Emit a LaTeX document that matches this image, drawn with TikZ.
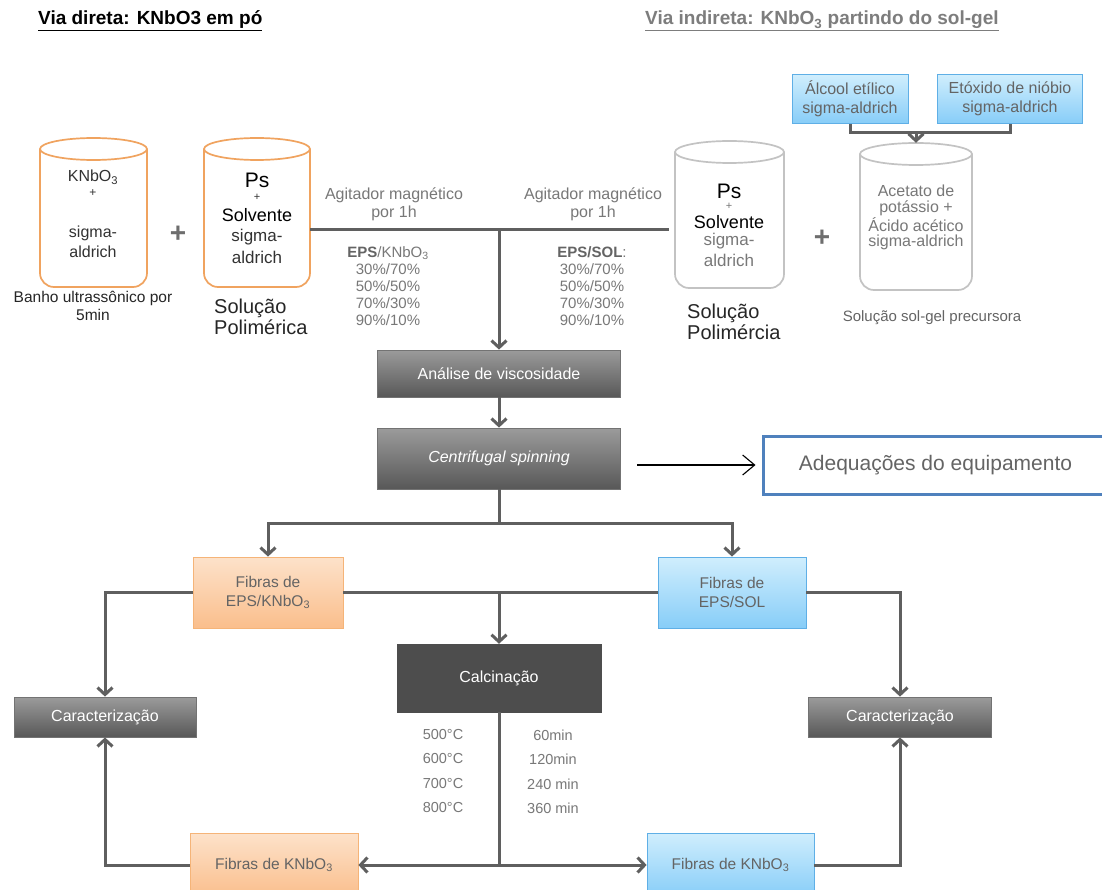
\documentclass[tikz,border=0pt]{standalone}
\usepackage{fontspec}
\setmainfont{Liberation Sans}
\usetikzlibrary{arrows.meta}
\definecolor{ocyl}{RGB}{240,163,95}
\definecolor{gcyl}{RGB}{195,195,195}
\definecolor{conncol}{RGB}{95,95,95}
\definecolor{otop}{RGB}{253,226,202}
\definecolor{obot}{RGB}{250,190,140}
\definecolor{oborder}{RGB}{245,180,120}
\definecolor{btop}{RGB}{208,238,253}
\definecolor{bbot}{RGB}{135,205,248}
\definecolor{bborder}{RGB}{95,175,230}
\definecolor{gtop}{RGB}{155,155,155}
\definecolor{gbot}{RGB}{88,88,88}
\definecolor{gborder}{RGB}{115,115,115}
\definecolor{calccol}{RGB}{77,77,77}
\definecolor{adqblue}{RGB}{79,129,189}
\definecolor{hdrgray}{RGB}{125,125,125}
\definecolor{tgray}{RGB}{100,100,100}
\definecolor{lgray}{RGB}{120,120,120}
\definecolor{dtext}{RGB}{50,50,50}
\definecolor{plusgray}{RGB}{110,110,110}
\newcommand\fz[2]{\fontsize{#1}{#2}\selectfont}
\newcommand\drawcyl[6]{%
  \node[inner sep=0pt, minimum width={(#4-#2)*1pt}, minimum height={(#5-#3)*1pt}] (#1) at ({(#2+#4)/2},{(#3+#5)/2}) {};
  \draw[#6, line width=1.7pt] ({(#2+#4)/2},{#3+11}) ellipse [x radius={(#4-#2)/2*1pt}, y radius=11pt];
  \draw[#6, line width=1.7pt, rounded corners=14pt] (#2,{#3+11}) -- (#2,#5) -- (#4,#5) -- (#4,{#3+11});
}
\tikzset{
  conn/.style={draw=conncol, line width=3pt},
  thinarr/.style={draw=black, line width=1.1pt, -{Straight Barb[length=12pt,width=20pt]}},
  gbox/.style={draw=gborder, line width=0.8pt, top color=gtop, bottom color=gbot, text=white, font=\fz{16}{19}, inner sep=0pt},
  cbox/.style={draw=calccol, fill=calccol, text=white, font=\fz{16}{19}, inner sep=0pt},
  obox/.style={draw=oborder, line width=0.8pt, top color=otop, bottom color=obot, text=tgray, font=\fz{15.5}{19}, align=center, inner sep=0pt},
  bbox/.style={draw=bborder, line width=0.8pt, top color=btop, bottom color=bbot, text=tgray, font=\fz{15.5}{19}, align=center, inner sep=0pt},
  adqbox/.style={draw=adqblue, line width=3pt, text=tgray, font=\fz{21}{24}, inner sep=0pt},
  tx/.style={font=\fz{14.5}{17}, text=lgray, inner sep=0pt},
  cyltx/.style={font=\fz{16}{19}, text=dtext, inner sep=0pt},
}
\begin{document}
\begin{tikzpicture}[x=1pt, y=-1pt, >={Straight Barb[length=7pt,width=15pt]}]
\useasboundingbox[fill=white] (0,0) rectangle (1102,890);

% headers
\node[font=\bfseries\fz{19}{22}, anchor=base west, inner sep=0pt] (h1) at (38,25) {\underline{Via direta: KNbO3 em pó}};
\node[font=\bfseries\fz{19}{22}, text=hdrgray, anchor=base west, inner sep=0pt] (h2) at (645,25) {\underline{Via indireta: KNbO\textsubscript{3} partindo do sol-gel}};

% reagent boxes
\node[bbox, minimum width=116pt, minimum height=49pt, font=\fz{16}{19}] (alc) at (850,99) {Álcool etílico\\sigma-aldrich};
\node[bbox, minimum width=145pt, minimum height=49pt, font=\fz{16}{19}] (eto) at (1010,99) {Etóxido de nióbio\\sigma-aldrich};

% cylinders
\drawcyl{c1}{40}{138}{147}{287}{ocyl}
\drawcyl{c2}{204}{138}{310}{287}{ocyl}
\drawcyl{c3}{675}{141}{784}{288}{gcyl}
\drawcyl{c4}{860}{143}{972}{290}{gcyl}

% cylinder texts
\node[cyltx] (c1a) at (93,177) {KNbO\textsubscript{3}};
\node[cyltx, font=\fz{12}{14}] (c1b) at (93,193) {+};
\node[cyltx] (c1c) at (93,233) {sigma-};
\node[cyltx] (c1d) at (93,252) {aldrich};

\node[cyltx, font=\fz{21}{24}, text=black] (c2a) at (257,180) {Ps};
\node[cyltx, font=\fz{11}{13}] (c2b) at (257,197) {+};
\node[cyltx, font=\fz{18}{21}, text=black] (c2c) at (257,215) {Solvente};
\node[cyltx, font=\fz{17}{20}] (c2d) at (257,237) {sigma-};
\node[cyltx, font=\fz{17}{20}] (c2e) at (257,257) {aldrich};

\node[cyltx, font=\fz{21}{24}, text=black] (c3a) at (729,191) {Ps};
\node[cyltx, font=\fz{11}{13}, text=lgray] (c3b) at (729,206) {+};
\node[cyltx, font=\fz{18}{21}, text=black] (c3c) at (729,222) {Solvente};
\node[cyltx, font=\fz{17}{20}, text=lgray] (c3d) at (729,241) {sigma-};
\node[cyltx, font=\fz{17}{20}, text=lgray] (c3e) at (729,260) {aldrich};

\node[cyltx, text=lgray] (c4a) at (916,191) {Acetato de};
\node[cyltx, text=lgray] (c4b) at (916,208) {potássio +};
\node[cyltx, text=lgray] (c4c) at (916,225) {Ácido acético};
\node[cyltx, text=lgray] (c4d) at (916,242) {sigma-aldrich};

% plus signs
\node[font=\bfseries\fz{28}{30}, text=plusgray, inner sep=0pt] (p1) at (178,234) {+};
\node[font=\bfseries\fz{28}{30}, text=plusgray, inner sep=0pt] (p2) at (822,238) {+};

% labels under cylinders
\node[font=\fz{15.5}{18}, text=black!85, align=center, inner sep=0pt] (l1) at (93,306) {Banho ultrassônico por\\5min};
\node[font=\fz{20}{21}, text=black!85, align=left, anchor=west, inner sep=0pt] (l2) at (214,317) {Solução\\Polimérica};
\node[font=\fz{20}{21}, text=black!85, align=left, anchor=west, inner sep=0pt] (l3) at (687,322) {Solução\\Polimércia};
\node[font=\fz{15}{18}, text=tgray, inner sep=0pt] (l4) at (932,318) {Solução sol-gel precursora};

% mixing labels
\node[font=\fz{16}{18}, text=lgray, align=center, inner sep=0pt] (ag1) at (394,204) {Agitador magnético\\por 1h};
\node[font=\fz{16}{18}, text=lgray, align=center, inner sep=0pt] (ag2) at (593,204) {Agitador magnético\\por 1h};
\node[font=\fz{15}{17}, text=lgray, align=center, inner sep=0pt] (eps1) at (388,286) {\textbf{\color{tgray}EPS}/KNbO\textsubscript{3}\\30\%/70\%\\50\%/50\%\\70\%/30\%\\90\%/10\%};
\node[font=\fz{15}{17}, text=lgray, align=center, inner sep=0pt] (eps2) at (592,286) {\textbf{\color{tgray}EPS/SOL}:\\30\%/70\%\\50\%/50\%\\70\%/30\%\\90\%/10\%};

% process boxes
\node[gbox, minimum width=243pt, minimum height=47pt] (ana) at (499,373.5) {Análise de viscosidade};
\node[gbox, minimum width=243pt, minimum height=61pt, font=\itshape\fz{16}{19}] (cen) at (499,458.5) {Centrifugal spinning};
\node[adqbox, minimum width=345pt, minimum height=58pt] (adq) at (935.5,465) {Adequações do equipamento};
\coordinate (adqs) at (637,465);

\node[obox, minimum width=150pt, minimum height=71pt] (fo) at (268,592.5) {Fibras de\\EPS/KNbO\textsubscript{3}};
\node[bbox, minimum width=148pt, minimum height=71pt] (fb) at (732,592.5) {Fibras de\\EPS/SOL};
\node[cbox, minimum width=204pt, minimum height=68pt] (cal) at (499,678) {Calcinação};
\node[gbox, minimum width=182pt, minimum height=40pt] (car1) at (105,717) {Caracterização};
\node[gbox, minimum width=183pt, minimum height=40pt] (car2) at (900,717) {Caracterização};

\node[tx] (t1) at (443,735) {500°C};
\node[tx] (t2) at (443,759) {600°C};
\node[tx] (t3) at (443,784) {700°C};
\node[tx] (t4) at (443,808) {800°C};
\node[tx] (m1) at (553,735) {60min};
\node[tx] (m2) at (553,759) {120min};
\node[tx] (m3) at (553,784) {240 min};
\node[tx] (m4) at (553,808) {360 min};

\node[obox, minimum width=168pt, minimum height=64pt] (bo) at (274,865) {Fibras de KNbO\textsubscript{3}};
\node[bbox, minimum width=167pt, minimum height=64pt] (bb) at (730.5,865) {Fibras de KNbO\textsubscript{3}};

% connectors
\coordinate (brk) at (916,133);
\draw[conn] (alc.south) |- (brk) -| (eto.south);
\draw[conn,->] (brk) -- (c4.north);

\coordinate (hm) at (499,230);
\draw[conn, shorten >=6pt] (c2.east |- hm) -- (c3.west |- hm);
\draw[conn,->] (hm) -- (ana.north);
\draw[conn,->] (ana.south) -- (cen.north);
\draw[thinarr, shorten >=6pt] (adqs) -- (adq.west);

\coordinate (sp1) at (499,523);
\draw[conn] (cen.south) -- (sp1);
\draw[conn,->] (sp1) -| (fo.north);
\draw[conn,->] (sp1) -| (fb.north);
\draw[conn,->] (fo.west) -| (car1.north);
\draw[conn] (fo.east) -- (fb.west);
\draw[conn,->] (cal.north |- fo.east) -- (cal.north);
\draw[conn,->] (fb.east) -| (car2.north);
\draw[conn] (cal.south) -- (cal.south |- bo.east);
\draw[conn,<->] (bo.east) -- (bb.west);
\draw[conn,->] (bo.west) -| (car1.south);
\draw[conn,->] (bb.east) -| (car2.south);
\end{tikzpicture}
\end{document}
